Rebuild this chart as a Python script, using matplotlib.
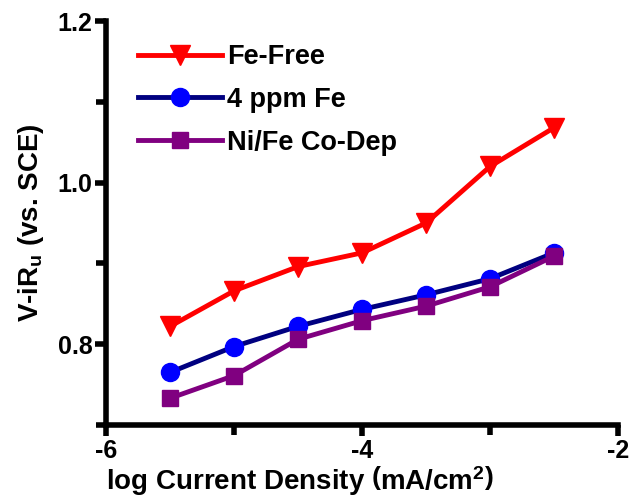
import matplotlib
matplotlib.use("Agg")
import matplotlib.pyplot as plt
from matplotlib.ticker import MultipleLocator

plt.rcParams["font.family"] = ["Liberation Sans", "DejaVu Sans"]
plt.rcParams["font.weight"] = "bold"
plt.rcParams["axes.unicode_minus"] = False
plt.rcParams["mathtext.fontset"] = "custom"
plt.rcParams["mathtext.rm"] = "Liberation Sans:bold"
plt.rcParams["mathtext.bf"] = "Liberation Sans:bold"
plt.rcParams["mathtext.it"] = "Liberation Sans:bold"

# Data
log_j = [-5.5, -5.0, -4.5, -4.0, -3.5, -3.0, -2.5]
fe_free = [0.822, 0.866, 0.896, 0.913, 0.950, 1.020, 1.068]
fe_4ppm = [0.765, 0.797, 0.822, 0.843, 0.861, 0.881, 0.913]
ni_fe_codep = [0.733, 0.761, 0.806, 0.829, 0.847, 0.871, 0.909]

fig = plt.figure(figsize=(6.32, 5.01), dpi=100)
ax = fig.add_axes([0.168, 0.152, 0.81, 0.806])

ax.plot(log_j, fe_free, color="#ff0000", lw=3.5, marker="v", ms=15,
        mfc="#ff0000", mec="#ff0000", label="Fe-Free")
ax.plot(log_j, fe_4ppm, color="#000080", lw=3.5, marker="o", ms=13,
        mfc="#0000ff", mec="#0000ff", label="4 ppm Fe")
ax.plot(log_j, ni_fe_codep, color="#800080", lw=3.5, marker="s", ms=11.5,
        mfc="#800080", mec="#800080", label="Ni/Fe Co-Dep")

ax.set_xlim(-6, -2)
ax.set_ylim(0.7, 1.2)
ax.xaxis.set_major_locator(MultipleLocator(2))
ax.xaxis.set_minor_locator(MultipleLocator(1))
ax.yaxis.set_minor_locator(MultipleLocator(0.1))
ax.set_yticks([0.8, 1.0, 1.2])
ax.set_yticklabels(["0.8", "1.0", "1.2"])

for side in ["top", "right"]:
    ax.spines[side].set_visible(False)
for side in ["left", "bottom"]:
    ax.spines[side].set_linewidth(4)

ax.tick_params(which="major", width=4, length=8, labelsize=18, pad=2)
ax.tick_params(which="minor", width=4, length=7)

ax.set_xlabel(r"log Current Density $\left(\mathbf{mA/cm^2}\right)$",
              fontsize=20, fontweight="bold", loc="left", labelpad=1)
ax.set_ylabel(r"V-iR$_\mathbf{u}$ (vs. SCE)", fontsize=20,
              fontweight="bold", labelpad=8)

ax.legend(loc="upper left", bbox_to_anchor=(0.025, 0.99), frameon=False,
          fontsize=19.5, handlelength=3.1, handletextpad=0.2,
          labelspacing=0.62, borderaxespad=0.3)

fig.savefig("out.png", dpi=100)
